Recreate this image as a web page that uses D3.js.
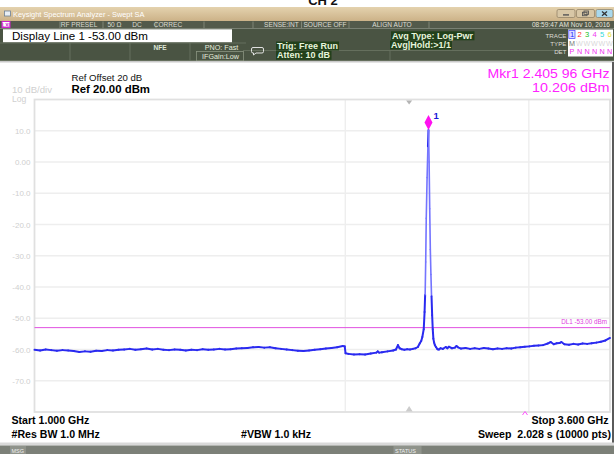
<!DOCTYPE html>
<html>
<head>
<meta charset="utf-8">
<script src="https://cdn.jsdelivr.net/npm/d3@7"></script>
<style>
  html, body { margin: 0; padding: 0; background: #fff; }
  svg { display: block; font-family: "Liberation Sans", Arial, sans-serif; }
</style>
</head>
<body>
<svg id="chart" width="614" height="454"></svg>
<script>
// ---------------- sweep settings ----------------
const startGHz = 1.000;
const stopGHz = 3.600;
const refLevelDbm = 20;
const dbPerDiv = 10;
const divisions = 10;

// amplitude graticule labels
const yTickValues = [10, 0, -10, -20, -30, -40, -50, -60, -70];
const yTickLabels = ["10.0", "0.00", "-10.0", "-20.0", "-30.0", "-40.0", "-50.0", "-60.0", "-70.0"];

// display line and marker 1
const displayLineDbm = -53.00;
const markerGHz = 2.40596;
const markerDbm = 10.206;

// trace 1 (clear/write, peak detector) : frequency in GHz
const traceGHz = [
  1.00, 1.02, 1.04, 1.06, 1.08, 1.10, 1.12, 1.14, 1.16, 1.18,
  1.20, 1.22, 1.24, 1.26, 1.28, 1.30, 1.32, 1.34, 1.36, 1.38,
  1.40, 1.42, 1.44, 1.46, 1.48, 1.50, 1.52, 1.54, 1.56, 1.58,
  1.60, 1.62, 1.64, 1.66, 1.68, 1.70, 1.72, 1.74, 1.76, 1.78,
  1.80, 1.82, 1.84, 1.86, 1.88, 1.90, 1.92, 1.94, 1.96, 1.98,
  2.00, 2.02, 2.04, 2.06, 2.08, 2.10, 2.107, 2.110, 2.12, 2.14,
  2.16, 2.18, 2.20, 2.22, 2.225, 2.23, 2.24, 2.26, 2.28, 2.29,
  2.297, 2.303, 2.31, 2.32, 2.33, 2.34, 2.35, 2.36, 2.368, 2.375,
  2.380, 2.384, 2.389, 2.392, 2.394, 2.396, 2.398, 2.401, 2.404, 2.40596,
  2.410, 2.414, 2.418, 2.422, 2.426, 2.430, 2.434, 2.438, 2.443, 2.448,
  2.455, 2.465, 2.475, 2.485, 2.50, 2.52, 2.53, 2.54, 2.56, 2.58,
  2.59, 2.60, 2.62, 2.65, 2.68, 2.71, 2.74, 2.77, 2.80, 2.83,
  2.86, 2.89, 2.92, 2.95, 2.98, 3.01, 3.04, 3.07, 3.10, 3.13,
  3.16, 3.19, 3.21, 3.23, 3.25, 3.27, 3.28, 3.30, 3.33, 3.36,
  3.39, 3.42, 3.45, 3.48, 3.51, 3.54, 3.57, 3.60
];
// trace 1 : level in dBm
const traceDbm = [
  -60.1, -60.3, -60.0, -60.2, -60.4, -60.2, -60.3, -60.5, -60.8, -60.6,
  -60.7, -60.4, -60.5, -60.2, -60.3, -60.1, -60.0, -59.8, -60.1, -59.9,
  -59.7, -60.0, -59.8, -60.1, -60.2, -60.0, -60.1, -60.3, -60.1, -60.2,
  -59.9, -60.1, -60.0, -59.8, -60.0, -59.9, -59.7, -59.6, -59.5, -59.3,
  -59.2, -59.4, -59.3, -59.6, -59.8, -60.0, -60.2, -60.4, -60.5, -60.3,
  -60.1, -59.9, -59.7, -59.5, -59.3, -58.9, -59.0, -61.2, -61.4, -61.6,
  -61.5, -61.6, -61.3, -61.0, -60.6, -61.0, -60.9, -60.6, -60.3, -60.0,
  -58.6, -59.6, -59.9, -60.1, -59.9, -60.0, -59.8, -59.6, -59.2, -58.0,
  -57.3, -56.0, -53.5, -48.0, -42.5, -32.0, -18.0, -5.0, 5.0, 10.206,
  0.0, -15.0, -28.0, -36.0, -43.0, -49.0, -53.5, -56.5, -57.8, -58.6,
  -59.2, -59.9, -60.0, -59.6, -59.8, -59.2, -59.6, -59.1, -59.6, -59.4,
  -58.9, -59.3, -59.7, -59.5, -59.8, -59.6, -59.8, -59.5, -59.7, -59.9,
  -59.7, -59.8, -59.6, -59.7, -59.4, -59.3, -59.1, -59.0, -58.8, -58.7,
  -58.6, -58.1, -57.6, -58.3, -58.0, -57.9, -57.6, -58.3, -58.5, -58.2,
  -58.4, -58.1, -58.2, -58.0, -57.8, -57.5, -57.1, -56.3
];

// ---------------- layout ----------------
const W = 614, H = 454;
const plot = { l: 34.5, r: 610, t: 99.5, b: 412 };
const plotW = plot.r - plot.l;
const FONT = '"Liberation Sans", Arial, sans-serif';

const svg = d3.select("#chart");

// frequency axis: the marker frequency sits at its own column of the graticule
const markerColumn = 0.6846;
const x = d3.scaleLinear()
  .domain([startGHz, markerGHz, stopGHz])
  .range([plot.l, plot.l + markerColumn * plotW, plot.r]);

const y = d3.scaleLinear()
  .domain([refLevelDbm - dbPerDiv * divisions, refLevelDbm])
  .range([plot.b, plot.t]);

// analyzer-style frequency readout, e.g. 2.405 96
const fmtGHz = f => { const s = f.toFixed(5); return s.slice(0, 5) + " " + s.slice(5); };

// ---------------- window chrome ----------------
svg.append("rect").attr("width", W).attr("height", H).attr("fill", "#ffffff");

// caption peeking in at the top edge
svg.append("text").attr("x", 323).attr("y", 4.5).attr("text-anchor", "middle")
  .attr("font-size", 13).attr("font-weight", "bold").attr("fill", "#111").text("CH 2");

const defs = svg.append("defs");
const tg = defs.append("linearGradient").attr("id", "titleGrad").attr("x1", 0).attr("y1", 0).attr("x2", 0).attr("y2", 1);
tg.append("stop").attr("offset", "0%").attr("stop-color", "#e4d2ae");
tg.append("stop").attr("offset", "100%").attr("stop-color", "#ccb288");

svg.append("rect").attr("x", 0).attr("y", 7).attr("width", W).attr("height", 14).attr("fill", "url(#titleGrad)");
// app icon
svg.append("rect").attr("x", 4.5).attr("y", 11).attr("width", 6).attr("height", 5).attr("fill", "#e8eef4").attr("stroke", "#6d7f95").attr("stroke-width", 0.8);
svg.append("text").attr("x", 13).attr("y", 16.8).attr("font-size", 7.4).attr("fill", "#ffffff")
  .text("Keysight Spectrum Analyzer - Swept SA");

// window buttons
const btns = [
  { x: 557, w: 18, fill: "#d8c7a6", glyph: "min" },
  { x: 576.5, w: 18, fill: "#d8c7a6", glyph: "restore" },
  { x: 596, w: 17, fill: "#a9d8ec", glyph: "close" }
];
btns.forEach(b => {
  svg.append("rect").attr("x", b.x).attr("y", 9.5).attr("width", b.w).attr("height", 8)
    .attr("rx", 1.5).attr("fill", b.fill).attr("stroke", "#8d7d62").attr("stroke-width", 0.7);
  const cx = b.x + b.w / 2;
  if (b.glyph === "min") {
    svg.append("rect").attr("x", cx - 3).attr("y", 14.2).attr("width", 6).attr("height", 1.4).attr("fill", "#555");
  } else if (b.glyph === "restore") {
    svg.append("rect").attr("x", cx - 3).attr("y", 12.3).attr("width", 4.5).attr("height", 3.4).attr("fill", "none").attr("stroke", "#555").attr("stroke-width", 0.9);
    svg.append("rect").attr("x", cx - 1.5).attr("y", 11).attr("width", 4.5).attr("height", 3.4).attr("fill", "none").attr("stroke", "#555").attr("stroke-width", 0.9);
  } else {
    svg.append("path").attr("d", `M${cx - 2.5},11.5 L${cx + 2.5},15.7 M${cx + 2.5},11.5 L${cx - 2.5},15.7`)
      .attr("stroke", "#333").attr("stroke-width", 1.3);
  }
});

// status row
svg.append("rect").attr("x", 0).attr("y", 21).attr("width", W).attr("height", 7.5).attr("fill", "#535a4b");
svg.append("rect").attr("x", 2).attr("y", 21.5).attr("width", 8).attr("height", 6).attr("fill", "#ffffff").attr("stroke", "#d020d0").attr("stroke-width", 1);
svg.append("text").attr("x", 6).attr("y", 26.8).attr("text-anchor", "middle").attr("font-size", 5).attr("font-weight", "bold").attr("fill", "#d020d0").text("LXI");
[60, 103, 156, 204, 253, 301.5, 349, 429].forEach(sx => {
  svg.append("line").attr("x1", sx).attr("x2", sx).attr("y1", 21.5).attr("y2", 28).attr("stroke", "#8a9180").attr("stroke-width", 0.8);
});
const statusTexts = [
  { x: 79, t: "RF PRESEL" }, { x: 114.5, t: "50 Ω" }, { x: 137, t: "DC" }, { x: 168, t: "CORREC" },
  { x: 281.5, t: "SENSE:INT" }, { x: 325, t: "SOURCE OFF" }, { x: 392, t: "ALIGN AUTO" }
];
statusTexts.forEach(s => {
  svg.append("text").attr("x", s.x).attr("y", 27).attr("text-anchor", "middle").attr("font-size", 6.6).attr("fill", "#dcdcd4").text(s.t);
});
svg.append("text").attr("x", 610).attr("y", 27).attr("text-anchor", "end").attr("font-size", 6.6).attr("fill", "#e4e4dc").text("08:59:47 AM Nov 10, 2016");

// settings panel
svg.append("rect").attr("x", 0).attr("y", 28.5).attr("width", W).attr("height", 32.5).attr("fill", "#4a5443");
svg.append("rect").attr("x", 3).attr("y", 29.3).attr("width", 229).attr("height", 13).attr("fill", "#ffffff");
svg.append("text").attr("x", 12).attr("y", 40).attr("font-size", 11.6).attr("fill", "#000")
  .text(`Display Line 1 ${displayLineDbm.toFixed(2)} dBm`);

const panelLine = (x1, y1, x2, y2) => svg.append("line").attr("x1", x1).attr("y1", y1).attr("x2", x2).attr("y2", y2)
  .attr("stroke", "#6c7664").attr("stroke-width", 0.8);
[70, 130, 190].forEach(px => panelLine(px, 43, px, 60.5));
panelLine(0, 43, 246, 43);
panelLine(243, 50.5, 566, 50.5);
panelLine(390, 50.5, 390, 60.5);
panelLine(0, 60.5, 614, 60.5);
// PNO / IF gain box
svg.append("rect").attr("x", 196.5).attr("y", 51.5).attr("width", 47).attr("height", 9.5).attr("fill", "none").attr("stroke", "#8a9480").attr("stroke-width", 0.8);

svg.append("text").attr("x", 160).attr("y", 49.5).attr("text-anchor", "middle").attr("font-size", 6.6).attr("font-weight", "bold").attr("fill", "#dfe6d6").text("NFE");
svg.append("text").attr("x", 221.5).attr("y", 50).attr("text-anchor", "middle").attr("font-size", 7.2).attr("fill", "#e4ebdc").text("PNO: Fast");
svg.append("text").attr("x", 220.5).attr("y", 58.5).attr("text-anchor", "middle").attr("font-size", 7.2).attr("fill", "#e4ebdc").text("IFGain:Low");

// trigger-source glyph
svg.append("path").attr("d", "M253,47.5 h9 a1.5,1.5 0 0 1 1.5,1.5 v2.5 a1.5,1.5 0 0 1 -1.5,1.5 h-6 l-2.5,2 v-2 h-0.5 a1.5,1.5 0 0 1 -1.5,-1.5 v-2.5 a1.5,1.5 0 0 1 1.5,-1.5 z")
  .attr("fill", "none").attr("stroke", "#f0f0f0").attr("stroke-width", 0.9);

const hiText = (tx, ty, t, size) => {
  const node = svg.append("text").attr("x", tx).attr("y", ty).attr("font-size", size).attr("font-weight", "bold").attr("fill", "#e8f4dc").text(t);
  const bb = node.node().getBBox();
  svg.insert("rect", () => node.node()).attr("x", bb.x - 1).attr("y", bb.y + 0.5).attr("width", bb.width + 2).attr("height", bb.height - 1).attr("fill", "#22401b");
};
hiText(277, 49, "Trig: Free Run", 9);
hiText(277, 58.3, "Atten: 10 dB", 9);
hiText(392, 38.8, "Avg Type: Log-Pwr", 9);
hiText(391, 48, "Avg|Hold:>1/1", 9);

// trace / type / detector annunciator
[["TRACE", 37.5], ["TYPE", 46], ["DET", 54]].forEach(([t, ty]) => {
  svg.append("text").attr("x", 566.5).attr("y", ty).attr("text-anchor", "end").attr("font-size", 6.2).attr("fill", "#dcdcd4").text(t);
});
svg.append("rect").attr("x", 568).attr("y", 29.5).attr("width", 45).attr("height", 27).attr("fill", "#ffffff");
svg.append("rect").attr("x", 568.8).attr("y", 30.5).attr("width", 6.2).attr("height", 8).attr("fill", "#dfe0ff").attr("stroke", "#4040ff").attr("stroke-width", 0.7);
const traceNums = ["1", "2", "3", "4", "5", "6"];
const traceColors = ["#2828ff", "#ff2a2a", "#22c022", "#f040f0", "#30d8d8", "#e6e030"];
traceNums.forEach((t, i) => {
  svg.append("text").attr("x", 572 + i * 7.5).attr("y", 37.3).attr("text-anchor", "middle").attr("font-size", 7.6).attr("fill", traceColors[i]).text(t);
  svg.append("text").attr("x", 572 + i * 7.5).attr("y", 45.6).attr("text-anchor", "middle").attr("font-size", 7.2)
    .attr("fill", i === 0 ? "#777" : "#d8d8d8").text(i === 0 ? "M" : "W");
  svg.append("text").attr("x", 572 + i * 7.5).attr("y", 54).attr("text-anchor", "middle").attr("font-size", 7.2)
    .attr("fill", "#f030f0").text(i === 0 ? "P" : "N");
});

// thin separator under panel
svg.append("rect").attr("x", 0).attr("y", 61).attr("width", W).attr("height", 1.5).attr("fill", "#c9c9c9");
// right window border
svg.append("rect").attr("x", 612).attr("y", 62).attr("width", 2).attr("height", 382).attr("fill", "#5a5a5a");

// ---------------- graticule ----------------
const g = svg.append("g");
g.selectAll("line.hgrid").data(yTickValues).enter().append("line")
  .attr("class", "hgrid")
  .attr("x1", plot.l).attr("x2", plot.r)
  .attr("y1", d => y(d)).attr("y2", d => y(d))
  .attr("stroke", "#eeeeee").attr("stroke-width", 1.4);
// visible vertical graticule columns
[0.540, 0.859].forEach(f => {
  g.append("line").attr("x1", plot.l + f * plotW).attr("x2", plot.l + f * plotW)
    .attr("y1", plot.t).attr("y2", plot.b).attr("stroke", "#eeeeee").attr("stroke-width", 1.4);
});
g.append("rect").attr("x", plot.l).attr("y", plot.t).attr("width", plotW).attr("height", plot.b - plot.t)
  .attr("fill", "none").attr("stroke", "#e0e0e0").attr("stroke-width", 1.8);

// amplitude labels
const yAxis = d3.axisLeft(y).tickValues(yTickValues)
  .tickFormat((d, i) => yTickLabels[i]).tickSize(0).tickPadding(4);
const ya = svg.append("g").attr("transform", `translate(${plot.l},0)`).call(yAxis);
ya.select(".domain").remove();
ya.selectAll("text").attr("font-family", FONT).attr("font-size", 8).attr("fill", "#cfcfcf");

// scale/ref annotations
svg.append("text").attr("x", 12).attr("y", 92.8).attr("font-size", 9.6).attr("fill", "#d0d0d0").text("10 dB/div");
svg.append("text").attr("x", 12).attr("y", 101.5).attr("font-size", 8.6).attr("fill", "#d0d0d0").text("Log");
svg.append("text").attr("x", 71.5).attr("y", 80.7).attr("font-size", 9.6).attr("fill", "#111").text("Ref Offset 20 dB");
svg.append("text").attr("x", 71.5).attr("y", 93.3).attr("font-size", 11.4).attr("font-weight", "bold").attr("fill", "#000").text("Ref 20.00 dBm");

// marker readout
svg.append("text").attr("x", 609.5).attr("y", 78.3).attr("text-anchor", "end").attr("font-size", 12.6).attr("fill", "#ff22ff")
  .attr("textLength", 122).attr("lengthAdjust", "spacingAndGlyphs")
  .text(`Mkr1 ${fmtGHz(markerGHz)} GHz`);
svg.append("text").attr("x", 609.5).attr("y", 91.7).attr("text-anchor", "end").attr("font-size", 12.6).attr("fill", "#ff22ff")
  .attr("textLength", 77.5).attr("lengthAdjust", "spacingAndGlyphs")
  .text(`${markerDbm.toFixed(3)} dBm`);

// sweep-position indicators
const triX = plot.l + 0.651 * plotW;
svg.append("path").attr("d", `M${triX - 3},${plot.t + 1} L${triX + 3},${plot.t + 1} L${triX},${plot.t + 5} Z`).attr("fill", "#b4b4b4");
svg.append("path").attr("d", `M${triX - 3.5},${plot.b - 0.5} L${triX + 3.5},${plot.b - 0.5} L${triX},${plot.b - 6} Z`).attr("fill", "#cccccc");

// display line
svg.append("line").attr("x1", plot.l).attr("x2", plot.r).attr("y1", y(displayLineDbm)).attr("y2", y(displayLineDbm))
  .attr("stroke", "#e050e0").attr("stroke-width", 1);
svg.append("text").attr("x", plot.r - 3).attr("y", y(displayLineDbm) - 3.5).attr("text-anchor", "end")
  .attr("font-size", 6.3).attr("fill", "#e040e0").text(`DL1 ${displayLineDbm.toFixed(2)} dBm`);

// trace 1: steep skirts render as a thin, lighter sweep, the noise floor as a dense band
const traceData = traceGHz.map((f, i) => [f, traceDbm[i]]);
const segs = d3.pairs(traceData);
const seg = svg.append("g").attr("fill", "none").attr("stroke-linecap", "round");
seg.selectAll("line").data(segs).enter().append("line")
  .attr("x1", d => x(d[0][0])).attr("y1", d => y(d[0][1]))
  .attr("x2", d => x(d[1][0])).attr("y2", d => y(d[1][1]))
  .attr("stroke", d => Math.abs(d[1][1] - d[0][1]) > 6 ? "#7474ff" : "#2a2af0")
  .attr("stroke-width", d => Math.abs(d[1][1] - d[0][1]) > 6 ? 1.6 : 2.0);

// marker 1
const mx = x(markerGHz), my = y(markerDbm);
svg.append("path").attr("d", `M${mx},${my} L${mx + 4},${my - 7.5} L${mx},${my - 15} L${mx - 4},${my - 7.5} Z`).attr("fill", "#ff10f0");
svg.append("text").attr("x", mx + 5).attr("y", my - 11.5).attr("font-size", 9.5).attr("font-weight", "bold").attr("fill", "#1818d8").text("1");

// ---------------- footer ----------------
svg.append("text").attr("x", 11.5).attr("y", 423.5).attr("font-size", 10.6).attr("font-weight", "bold").attr("fill", "#000")
  .text(`Start ${startGHz.toFixed(3)} GHz`);
svg.append("text").attr("x", 608.5).attr("y", 423.5).attr("text-anchor", "end").attr("font-size", 10.6).attr("font-weight", "bold").attr("fill", "#000")
  .text(`Stop ${stopGHz.toFixed(3)} GHz`);
svg.append("text").attr("x", 11.5).attr("y", 438).attr("font-size", 10.6).attr("font-weight", "bold").attr("fill", "#000").text("#Res BW 1.0 MHz");
svg.append("text").attr("x", 241).attr("y", 438).attr("font-size", 10.6).attr("font-weight", "bold").attr("fill", "#000").text("#VBW 1.0 kHz");
svg.append("text").attr("x", 611).attr("y", 438).attr("text-anchor", "end").attr("font-size", 10.6).attr("font-weight", "bold").attr("fill", "#000")
  .attr("xml:space", "preserve").text("Sweep  2.028 s (10000 pts)");
// small magenta caret near stop frequency
svg.append("path").attr("d", "M522.5,415 L525,411.5 L527.5,415").attr("fill", "none").attr("stroke", "#ff40ff").attr("stroke-width", 0.9);

// message / status bar
svg.append("rect").attr("x", 0).attr("y", 442.5).attr("width", W).attr("height", 3).attr("fill", "#d9d9d9");
svg.append("rect").attr("x", 0).attr("y", 445.5).attr("width", W).attr("height", 8.5).attr("fill", "#7c8078");
svg.append("rect").attr("x", 10).attr("y", 446).attr("width", 16).attr("height", 8).attr("fill", "#8f938b");
svg.append("text").attr("x", 11.5).attr("y", 452.5).attr("font-size", 5.5).attr("fill", "#f0f0f0").text("MSG");
svg.append("rect").attr("x", 393.5).attr("y", 446).attr("width", 28).attr("height", 8).attr("fill", "#8f938b");
svg.append("text").attr("x", 395).attr("y", 452.5).attr("font-size", 5.5).attr("fill", "#f0f0f0").text("STATUS");
</script>
</body>
</html>
